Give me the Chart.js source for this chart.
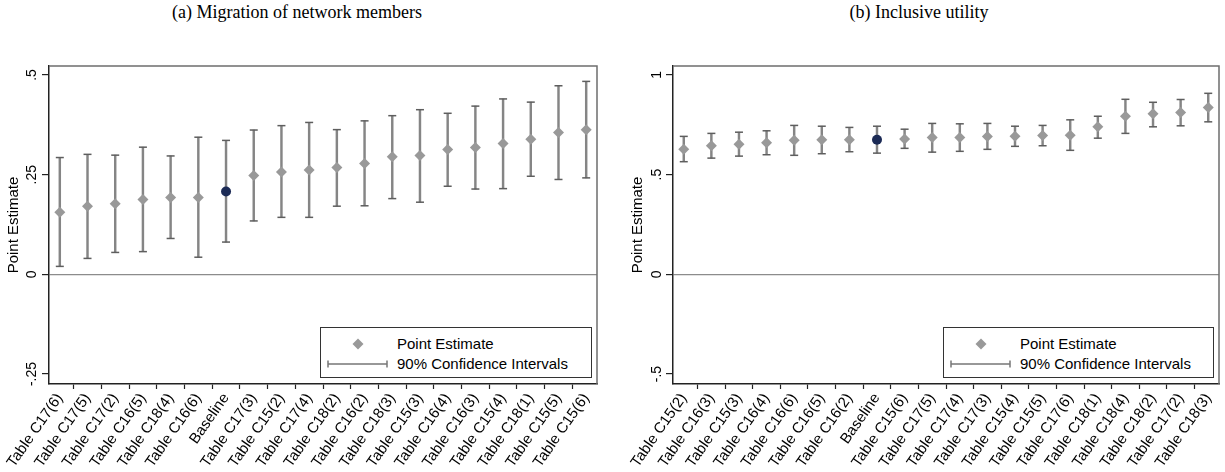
<!DOCTYPE html>
<html lang="en">
<head>
  <meta charset="UTF-8">
  <title>Point estimates across specifications</title>
  <script src="https://cdn.jsdelivr.net/npm/chart.js"></script>
  <style>
    body {
      margin: 0;
      background: #fff;
      font-family: "Liberation Sans", Arial, sans-serif;
    }

    #fig {
      position: relative;
      width: 1225px;
      height: 472px;
      overflow: hidden;
    }

    .panel {
      position: absolute;
      top: 0;
    }

    .title {
      position: absolute;
      top: 2px;
      transform: translateX(-50%);
      white-space: nowrap;
      font-family: "Liberation Serif", "Times New Roman", serif;
      font-size: 18px;
    }

    .legend {
      position: absolute;
      top: 327px;
      height: 49px;
      border: 1.5px solid #333;
      background: #fff;
      font-size: 15px;
    }

    .legend .row {
      position: absolute;
      left: 0;
      right: 0;
      height: 20px;
      line-height: 20px;
    }

    .legend svg {
      position: absolute;
      left: 6px;
      top: 0;
    }

    .legend .lab {
      position: absolute;
      left: 76px;
    }
  </style>
</head>
<body>
  <div id="fig">
    <div class="title" style="left: 297px">(a) Migration of network members</div>
    <div class="title" style="left: 919px">(b) Inclusive utility</div>

    <div class="panel" style="left: 0"><canvas id="chartA" width="612" height="472"></canvas></div>
    <div class="panel" style="left: 612px"><canvas id="chartB" width="613" height="472"></canvas></div>

    <div class="legend" style="left: 320px; width: 270px">
      <div class="row" style="top: 6px">
        <svg width="62" height="20"><path d="M31 4.5 L36.5 10 L31 15.5 L25.5 10 Z" fill="#999"/></svg>
        <span class="lab">Point Estimate</span>
      </div>
      <div class="row" style="top: 26px">
        <svg width="62" height="20"><path d="M1 10 H60 M1 6.5 V13.5 M60 6.5 V13.5" stroke="#777" stroke-width="1.5" fill="none"/></svg>
        <span class="lab">90% Confidence Intervals</span>
      </div>
    </div>

    <div class="legend" style="left: 943px; width: 269px">
      <div class="row" style="top: 6px">
        <svg width="62" height="20"><path d="M31 4.5 L36.5 10 L31 15.5 L25.5 10 Z" fill="#999"/></svg>
        <span class="lab">Point Estimate</span>
      </div>
      <div class="row" style="top: 26px">
        <svg width="62" height="20"><path d="M1 10 H60 M1 6.5 V13.5 M60 6.5 V13.5" stroke="#777" stroke-width="1.5" fill="none"/></svg>
        <span class="lab">90% Confidence Intervals</span>
      </div>
    </div>
  </div>

  <script>
    // (a) Migration of network members
    const catsA = ['Table C17(6)', 'Table C17(5)', 'Table C17(2)', 'Table C16(5)', 'Table C18(4)',
      'Table C16(6)', 'Baseline', 'Table C17(3)', 'Table C15(2)', 'Table C17(4)', 'Table C18(2)',
      'Table C16(2)', 'Table C18(3)', 'Table C15(3)', 'Table C16(4)', 'Table C16(3)', 'Table C15(4)',
      'Table C18(1)', 'Table C15(5)', 'Table C15(6)'];
    const estA = [0.156, 0.171, 0.177, 0.188, 0.193, 0.193, 0.208, 0.248, 0.257, 0.262,
      0.268, 0.278, 0.295, 0.298, 0.313, 0.318, 0.328, 0.339, 0.356, 0.363];
    const loA = [0.020, 0.040, 0.055, 0.057, 0.090, 0.043, 0.081, 0.134, 0.143, 0.143,
      0.171, 0.172, 0.190, 0.181, 0.221, 0.214, 0.215, 0.246, 0.238, 0.242];
    const hiA = [0.293, 0.301, 0.299, 0.319, 0.297, 0.344, 0.336, 0.362, 0.373, 0.381,
      0.363, 0.385, 0.398, 0.413, 0.404, 0.422, 0.440, 0.432, 0.473, 0.484];
    const yTicksA = [-0.25, 0, 0.25, 0.5];
    const yLabelsA = ['-.25', '0', '.25', '.5'];

    // (b) Inclusive utility
    const catsB = ['Table C15(2)', 'Table C16(3)', 'Table C15(3)', 'Table C16(4)', 'Table C16(6)',
      'Table C16(5)', 'Table C16(2)', 'Baseline', 'Table C15(6)', 'Table C17(5)', 'Table C17(4)',
      'Table C17(3)', 'Table C15(4)', 'Table C15(5)', 'Table C17(6)', 'Table C18(1)', 'Table C18(4)',
      'Table C18(2)', 'Table C17(2)', 'Table C18(3)'];
    const estB = [0.628, 0.645, 0.653, 0.660, 0.672, 0.675, 0.675, 0.675, 0.679, 0.687,
      0.687, 0.692, 0.693, 0.697, 0.698, 0.740, 0.793, 0.805, 0.812, 0.837];
    const loB = [0.565, 0.583, 0.593, 0.600, 0.597, 0.605, 0.615, 0.608, 0.632, 0.613,
      0.617, 0.627, 0.642, 0.645, 0.622, 0.683, 0.707, 0.740, 0.745, 0.765];
    const hiB = [0.692, 0.707, 0.713, 0.720, 0.747, 0.743, 0.737, 0.743, 0.728, 0.757,
      0.755, 0.757, 0.743, 0.747, 0.775, 0.793, 0.878, 0.863, 0.877, 0.908];
    const yTicksB = [-0.5, 0, 0.5, 1];
    const yLabelsB = ['-.5', '0', '.5', '1'];

    Chart.defaults.font.family = '"Liberation Sans", Arial, sans-serif';
    Chart.defaults.color = '#000';

    // gray top/right edges of the plot box
    const frame = {
      id: 'frame',
      beforeDatasetsDraw(chart) {
        const a = chart.chartArea;
        const c = chart.ctx;
        c.save();
        c.strokeStyle = '#6e6e6e';
        c.lineWidth = 1.5;
        c.beginPath();
        c.moveTo(a.left, a.top);
        c.lineTo(a.right, a.top);
        c.lineTo(a.right, a.bottom);
        c.stroke();
        c.restore();
      }
    };

    function panel(id, cats, est, lo, hi, yTicks, yLabels, yMin, yMax, box) {
      const idx = cats.map((c, i) => i);
      const isBase = cats.map(c => c === 'Baseline');

      new Chart(document.getElementById(id), {
        type: 'scatter',
        data: {
          datasets: [{
            // point estimates
            data: idx.map(i => ({ x: i, y: est[i] })),
            pointStyle: isBase.map(b => b ? 'circle' : 'rectRot'),
            pointRadius: isBase.map(b => b ? 5 : 5.5),
            pointBackgroundColor: isBase.map(b => b ? '#1b2a55' : '#999999'),
            pointBorderWidth: 0,
            order: 0
          }, {
            // upper caps
            data: idx.map(i => ({ x: i, y: hi[i] })),
            pointStyle: 'line',
            pointRadius: 4,
            pointBorderColor: '#5e5e5e',
            pointBorderWidth: 1.5,
            order: 1
          }, {
            // lower caps
            data: idx.map(i => ({ x: i, y: lo[i] })),
            pointStyle: 'line',
            pointRadius: 4,
            pointBorderColor: '#5e5e5e',
            pointBorderWidth: 1.5,
            order: 1
          }, {
            // 90% CI spans
            type: 'bar',
            data: idx.map(i => ({ x: i, y: [lo[i], hi[i]] })),
            backgroundColor: '#858585',
            barThickness: 1.8,
            order: 2
          }]
        },
        options: {
          animation: false,
          responsive: false,
          events: [],
          layout: { padding: box.pad },
          plugins: {
            legend: { display: false },
            tooltip: { enabled: false }
          },
          scales: {
            x: {
              type: 'linear',
              min: -0.39,
              max: cats.length - 1 + 0.39,
              offset: false,
              afterBuildTicks: ax => { ax.ticks = idx.map(i => ({ value: i })); },
              afterFit: ax => { ax.height = 88; },
              ticks: {
                autoSkip: false,
                minRotation: 55,
                maxRotation: 55,
                padding: 1,
                font: { size: 15 },
                callback: v => cats[v]
              },
              grid: { drawOnChartArea: false, tickLength: 5, tickColor: '#222', tickWidth: 1.2 },
              border: { color: '#222', width: 1.5 }
            },
            y: {
              min: yMin,
              max: yMax,
              afterBuildTicks: ax => { ax.ticks = yTicks.map(v => ({ value: v })); },
              afterFit: ax => { ax.width = box.yWidth; },
              ticks: {
                minRotation: 90,
                maxRotation: 90,
                crossAlign: 'center',
                padding: box.tickPad,
                font: { size: 14 },
                callback: v => yLabels[yTicks.indexOf(v)]
              },
              grid: {
                color: c => (c.tick && c.tick.value === 0) ? '#8c8c8c' : 'rgba(0,0,0,0)',
                lineWidth: 1.2,
                tickLength: 7,
                tickColor: '#222'
              },
              border: { color: '#222', width: 1.5 },
              title: {
                display: true,
                text: 'Point Estimate',
                font: { size: 15 },
                padding: { top: box.titlePad, bottom: 0 }
              }
            }
          }
        },
        plugins: [frame]
      });
    }

    panel('chartA', catsA, estA, loA, hiA, yTicksA, yLabelsA, -0.275, 0.5226,
      { pad: { top: 66, left: 0, right: 15, bottom: 0 }, yWidth: 49, tickPad: -2.6, titlePad: 5 });
    panel('chartB', catsB, estB, loB, hiB, yTicksB, yLabelsB, -0.55, 1.045,
      { pad: { top: 66, left: 0, right: 6, bottom: 0 }, yWidth: 61, tickPad: 0.8, titlePad: 17 });
  </script>
</body>
</html>
